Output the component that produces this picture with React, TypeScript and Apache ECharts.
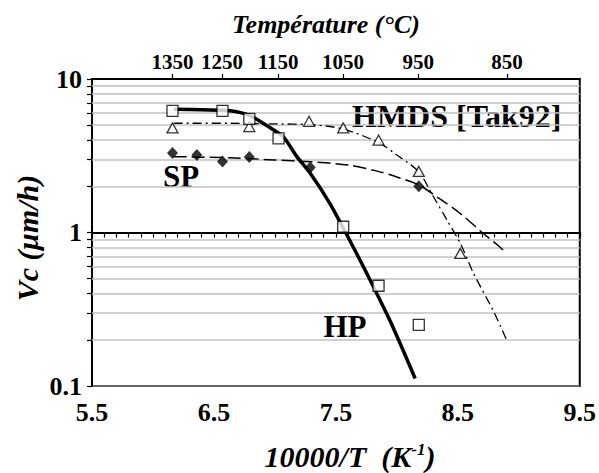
import React, { useEffect, useRef } from 'react';
import * as echarts from 'echarts';

const FONT = 'Liberation Serif';

// Measured points (x = 10000/T in K^-1, y = Vc in µm/h)
const hpX = [6.16, 6.57, 6.79, 7.03, 7.56, 7.85, 8.18];
const hpV = [6.2, 6.2, 5.5, 4.1, 1.09, 0.45, 0.25];
const hmdsX = [6.16, 6.79, 7.28, 7.56, 7.85, 8.18, 8.52];
const hmdsV = [4.8, 4.9, 5.3, 4.8, 4.0, 2.5, 0.73];
const spX = [6.16, 6.36, 6.57, 6.79, 7.29, 8.18];
const spV = [3.3, 3.2, 2.9, 3.1, 2.65, 2.0];

// Fitted curves
const hpFitX = [6.17, 6.4, 6.63, 6.8, 6.99, 7.07, 7.18, 7.29, 7.45, 7.56, 7.67, 7.81, 7.95, 8.15];
const hpFitV = [6.35, 6.3, 6.22, 5.75, 4.65, 4.2, 3.12, 2.43, 1.55, 1.07, 0.73, 0.44, 0.26, 0.112];
const hmdsFitX = [6.17, 6.63, 7.0, 7.28, 7.56, 7.85, 8.0, 8.18, 8.3, 8.41, 8.52, 8.63, 8.79, 8.9];
const hmdsFitV = [5.15, 5.15, 5.1, 5.05, 4.72, 3.85, 3.2, 2.48, 1.71, 1.21, 0.85, 0.54, 0.31, 0.2];
const spFitX = [6.17, 6.63, 6.99, 7.29, 7.6, 7.83, 8.0, 8.18, 8.35, 8.52, 8.7, 8.84, 8.9];
const spFitV = [3.12, 3.07, 2.97, 2.89, 2.75, 2.52, 2.3, 2.04, 1.66, 1.33, 1.0, 0.81, 0.73];

// Top axis: temperatures in °C
const tempC = [1350, 1250, 1150, 1050, 950, 850];
// Minor grid values on the log axis
const minorGrid = [0.2, 0.3, 0.4, 0.5, 0.6, 0.7, 0.8, 0.9, 2, 3, 4, 5, 6, 7, 8, 9];

const zip = (xs: number[], ys: number[]) => xs.map((x, i) => [x, ys[i]]);

export default function App() {
  const ref = useRef<HTMLDivElement>(null);
  useEffect(() => {
    const chart = echarts.init(ref.current!, null, { renderer: 'svg' });
    const tempPos = tempC.map((t) => 10000 / (t + 273.15));
    const minorTickPos = minorGrid.map((v) => Math.log10(v));
    const boldLabel = { fontFamily: FONT, fontWeight: 'bold' as const, color: '#000' };

    const option: any = {
      animation: false,
      backgroundColor: '#fff',
      textStyle: { fontFamily: FONT },
      grid: {
        left: 92,
        right: 19,
        top: 79,
        bottom: 87,
        show: true,
        borderColor: '#000',
        borderWidth: 2,
        backgroundColor: 'transparent',
      },
      xAxis: [
        {
          type: 'value',
          min: 5.5,
          max: 9.5,
          interval: 0.1,
          position: 'bottom',
          axisLine: { show: true, lineStyle: { color: '#000', width: 2 } },
          axisTick: { show: true, inside: false, length: 5, lineStyle: { color: '#000', width: 1.2 } },
          axisLabel: {
            ...boldLabel,
            fontSize: 26,
            margin: 13,
            formatter: (v: number) => {
              const d = v * 2;
              const r = Math.round(d);
              return Math.abs(d - r) < 1e-6 && r % 2 === 1 ? (r / 2).toFixed(1) : '';
            },
          },
          splitLine: { show: false },
        },
        {
          type: 'value',
          min: 5.5,
          max: 9.5,
          position: 'top',
          axisLine: { show: true, lineStyle: { color: '#000', width: 2 } },
          axisTick: { show: true, inside: false, length: 5, customValues: tempPos, lineStyle: { color: '#000', width: 1.2 } },
          axisLabel: {
            ...boldLabel,
            fontSize: 21,
            margin: 7,
            customValues: tempPos,
            formatter: (v: number) => {
              let best = 0;
              tempPos.forEach((p, i) => {
                if (Math.abs(p - v) < Math.abs(tempPos[best] - v)) best = i;
              });
              return String(tempC[best]);
            },
          },
          splitLine: { show: false },
        },
      ],
      yAxis: [
        {
          type: 'log',
          logBase: 10,
          min: 0.1,
          max: 10,
          position: 'left',
          axisLine: { show: true, lineStyle: { color: '#000', width: 2 } },
          axisTick: { show: true, inside: false, length: 5, lineStyle: { color: '#000', width: 1.2 } },
          axisLabel: { ...boldLabel, fontSize: 26, margin: 10, formatter: (v: number) => String(v) },
          splitLine: { show: true, lineStyle: { color: '#8a8a8a', width: 1.5 } },
        },
        {
          type: 'value',
          min: -1,
          max: 1,
          position: 'left',
          offset: 0,
          axisLine: { show: false },
          axisTick: { show: true, inside: false, length: 5, customValues: minorTickPos, lineStyle: { color: '#000', width: 1.2 } },
          axisLabel: { show: false },
          splitLine: { show: false },
        },
      ],
      series: [
        {
          name: 'HMDS fit',
          type: 'line',
          xAxisIndex: 0,
          yAxisIndex: 0,
          data: zip(hmdsFitX, hmdsFitV),
          symbol: 'none',
          smooth: 0.3,
          lineStyle: { color: '#000', width: 1.3, type: [9, 4, 2, 4] },
          markLine: {
            silent: true,
            z: 1,
            symbol: ['none', 'none'],
            label: { show: false },
            lineStyle: { color: '#c2c2c2', width: 1.5, type: 'solid' },
            data: minorGrid.map((v) => ({ yAxis: v })),
          },
        },
        {
          name: 'SP fit',
          type: 'line',
          data: zip(spFitX, spFitV),
          symbol: 'none',
          smooth: 0.3,
          lineStyle: { color: '#000', width: 1.5, type: [13, 5] },
        },
        {
          name: 'HP fit',
          type: 'line',
          data: zip(hpFitX, hpFitV),
          symbol: 'none',
          smooth: 0.3,
          lineStyle: { color: '#000', width: 3.5, type: 'solid' },
        },
        {
          name: 'HMDS',
          type: 'scatter',
          data: zip(hmdsX, hmdsV),
          symbol: 'triangle',
          symbolSize: [11, 10],
          itemStyle: { color: '#fff', borderColor: '#000', borderWidth: 1.3 },
          z: 3,
        },
        {
          name: 'SP',
          type: 'scatter',
          data: zip(spX, spV),
          symbol: 'diamond',
          symbolSize: [11, 12],
          itemStyle: { color: '#000', borderColor: '#000', borderWidth: 0 },
          z: 3,
        },
        {
          name: 'HP',
          type: 'scatter',
          data: zip(hpX, hpV),
          symbol: 'rect',
          symbolSize: 11,
          itemStyle: { color: '#fff', borderColor: '#000', borderWidth: 1.3 },
          z: 3,
        },
      ],
      graphic: [
        {
          type: 'text',
          x: 326,
          y: 24,
          style: { text: 'Température (°C)', fontFamily: FONT, fontSize: 26, fontWeight: 'bold', fontStyle: 'italic', fill: '#000', align: 'center', verticalAlign: 'middle' },
        },
        {
          type: 'text',
          x: 27,
          y: 238,
          rotation: Math.PI / 2,
          style: { text: 'Vc (µm/h)', fontFamily: FONT, fontSize: 30, fontWeight: 'bold', fontStyle: 'italic', fill: '#000', align: 'center', verticalAlign: 'middle' },
        },
        {
          type: 'text',
          x: 350,
          y: 456,
          style: {
            text: '{a|10000/T  (K}{s|-1}{a|)}',
            align: 'center',
            verticalAlign: 'middle',
            rich: {
              a: { fontFamily: FONT, fontSize: 30, fontWeight: 'bold', fontStyle: 'italic', fill: '#000' },
              s: { fontFamily: FONT, fontSize: 17, fontWeight: 'bold', fontStyle: 'italic', fill: '#000', verticalAlign: 'top' },
            },
          },
        },
        {
          type: 'text',
          x: 352,
          y: 116,
          style: { text: 'HMDS [Tak92]', fontFamily: FONT, fontSize: 32, fontWeight: 'bold', fill: '#000', align: 'left', verticalAlign: 'middle' },
        },
        {
          type: 'text',
          x: 181,
          y: 176,
          style: { text: 'SP', fontFamily: FONT, fontSize: 31, fontWeight: 'bold', fill: '#000', align: 'center', verticalAlign: 'middle' },
        },
        {
          type: 'text',
          x: 345,
          y: 326,
          style: { text: 'HP', fontFamily: FONT, fontSize: 31, fontWeight: 'bold', fill: '#000', align: 'center', verticalAlign: 'middle' },
        },
      ],
    };
    chart.setOption(option);
    return () => chart.dispose();
  }, []);
  return (
    <div
      ref={ref}
      style={{ position: 'fixed', left: 0, top: 0, width: 599, height: 473, background: '#fff' }}
    />
  );
}
